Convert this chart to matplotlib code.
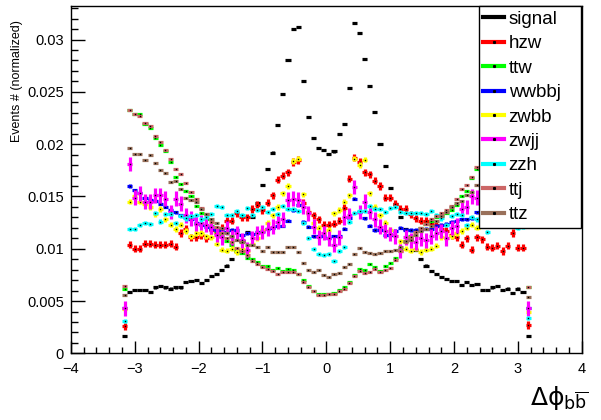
import matplotlib
matplotlib.use('Agg')
import matplotlib.pyplot as plt
import numpy as np
from matplotlib.lines import Line2D
from matplotlib.ticker import MultipleLocator, FuncFormatter

# Bordes de los bins (80 bins entre -3.2 y 3.2)
bordes = np.linspace(-3.2, 3.2, 81)
centros = 0.5 * (bordes[:-1] + bordes[1:])

nombres = ['signal', 'hzw', 'ttw', 'wwbbj', 'zwbb', 'zwjj', 'zzh', 'ttj', 'ttz']
colores = ['#000000', '#ff0000', '#00ff00', '#0000ff', '#ffff00',
           '#ff00ff', '#00ffff', '#cc6666', '#99705a']
errores = [0.0001, 0.00035, 0.00005, 0.00015, 0.00025, 0.0007, 0.0002, 0.00005, 0.00005]

signal = [0.0017, 0.0059, 0.0061, 0.0061, 0.0061, 0.0059, 0.0063, 0.0064, 0.0063, 0.0062,
          0.0063, 0.0063, 0.0068, 0.0069, 0.0070, 0.0067, 0.0070, 0.0074, 0.0076, 0.0080,
          0.0084, 0.0090, 0.0098, 0.0107, 0.0116, 0.0130, 0.0144, 0.0161, 0.0176, 0.0192,
          0.0218, 0.0248, 0.0280, 0.0310, 0.0312, 0.0260, 0.0226, 0.0206, 0.0196, 0.0194,
          0.0191, 0.0193, 0.0210, 0.0219, 0.0254, 0.0316, 0.0306, 0.0281, 0.0256, 0.0231,
          0.0200, 0.0179, 0.0158, 0.0143, 0.0130, 0.0119, 0.0109, 0.0099, 0.0090, 0.0084,
          0.0079, 0.0076, 0.0073, 0.0071, 0.0069, 0.0069, 0.0065, 0.0068, 0.0065, 0.0066,
          0.0061, 0.0061, 0.0063, 0.0064, 0.0061, 0.0062, 0.0058, 0.0062, 0.0059, 0.0017]

hzw = [0.0026, 0.0104, 0.0100, 0.0100, 0.0105, 0.0105, 0.0104, 0.0104, 0.0104, 0.0105,
       0.0102, 0.0115, 0.0119, 0.0111, 0.0111, 0.0113, 0.0110, 0.0118, 0.0115, 0.0120,
       0.0127, 0.0127, 0.0134, 0.0130, 0.0130, 0.0138, 0.0142, 0.0137, 0.0144, 0.0151,
       0.0166, 0.0170, 0.0173, 0.0183, 0.0185, 0.0144, 0.0135, 0.0132, 0.0128, 0.0123,
       0.0123, 0.0124, 0.0127, 0.0139, 0.0167, 0.0187, 0.0183, 0.0173, 0.0171, 0.0165,
       0.0160, 0.0149, 0.0149, 0.0143, 0.0138, 0.0138, 0.0133, 0.0129, 0.0127, 0.0127,
       0.0125, 0.0123, 0.0119, 0.0117, 0.0113, 0.0111, 0.0104, 0.0110, 0.0099, 0.0111,
       0.0109, 0.0102, 0.0101, 0.0103, 0.0098, 0.0103, 0.0115, 0.0101, 0.0101, 0.0027]

ttw = [0.0062, 0.0233, 0.0229, 0.0229, 0.0219, 0.0215, 0.0206, 0.0199, 0.0193, 0.0183,
       0.0169, 0.0162, 0.0155, 0.0150, 0.0141, 0.0134, 0.0128, 0.0122, 0.0117, 0.0112,
       0.0107, 0.0104, 0.0099, 0.0096, 0.0091, 0.0090, 0.0087, 0.0084, 0.0084, 0.0080,
       0.0082, 0.0079, 0.0081, 0.0080, 0.0076, 0.0070, 0.0064, 0.0060, 0.0057, 0.0057,
       0.0057, 0.0058, 0.0061, 0.0063, 0.0068, 0.0075, 0.0081, 0.0080, 0.0085, 0.0083,
       0.0079, 0.0084, 0.0086, 0.0091, 0.0100, 0.0107, 0.0112, 0.0117, 0.0120, 0.0124,
       0.0127, 0.0130, 0.0132, 0.0134, 0.0137, 0.0142, 0.0150, 0.0155, 0.0168, 0.0176,
       0.0182, 0.0190, 0.0196, 0.0203, 0.0210, 0.0216, 0.0222, 0.0227, 0.0232, 0.0063]

wwbbj = [0.0043, 0.0160, 0.0156, 0.0153, 0.0149, 0.0147, 0.0146, 0.0143, 0.0140, 0.0137,
         0.0135, 0.0132, 0.0130, 0.0128, 0.0125, 0.0123, 0.0121, 0.0119, 0.0118, 0.0118,
         0.0116, 0.0118, 0.0118, 0.0113, 0.0115, 0.0114, 0.0116, 0.0117, 0.0119, 0.0120,
         0.0122, 0.0122, 0.0127, 0.0137, 0.0142, 0.0126, 0.0121, 0.0112, 0.0112, 0.0112,
         0.0110, 0.0112, 0.0112, 0.0119, 0.0129, 0.0148, 0.0135, 0.0129, 0.0122, 0.0118,
         0.0118, 0.0113, 0.0113, 0.0117, 0.0120, 0.0118, 0.0118, 0.0118, 0.0118, 0.0119,
         0.0119, 0.0122, 0.0123, 0.0124, 0.0126, 0.0127, 0.0128, 0.0128, 0.0129, 0.0135,
         0.0136, 0.0138, 0.0140, 0.0143, 0.0146, 0.0149, 0.0152, 0.0156, 0.0160, 0.0043]

zwbb = [0.0042, 0.0145, 0.0150, 0.0145, 0.0143, 0.0140, 0.0133, 0.0138, 0.0128, 0.0123,
        0.0119, 0.0123, 0.0117, 0.0112, 0.0115, 0.0115, 0.0112, 0.0111, 0.0105, 0.0099,
        0.0098, 0.0100, 0.0097, 0.0100, 0.0098, 0.0105, 0.0110, 0.0118, 0.0125, 0.0132,
        0.0140, 0.0153, 0.0160, 0.0184, 0.0186, 0.0152, 0.0134, 0.0125, 0.0120, 0.0115,
        0.0118, 0.0134, 0.0137, 0.0145, 0.0151, 0.0186, 0.0180, 0.0185, 0.0153, 0.0140,
        0.0132, 0.0125, 0.0118, 0.0112, 0.0107, 0.0100, 0.0098, 0.0100, 0.0097, 0.0099,
        0.0100, 0.0103, 0.0111, 0.0110, 0.0112, 0.0115, 0.0117, 0.0120, 0.0123, 0.0120,
        0.0125, 0.0128, 0.0133, 0.0135, 0.0140, 0.0142, 0.0144, 0.0148, 0.0145, 0.0040]

zwjj = [0.0043, 0.0181, 0.0149, 0.0153, 0.0145, 0.0145, 0.0151, 0.0151, 0.0148, 0.0135,
        0.0148, 0.0143, 0.0132, 0.0129, 0.0124, 0.0125, 0.0123, 0.0121, 0.0113, 0.0111,
        0.0120, 0.0111, 0.0115, 0.0108, 0.0099, 0.0110, 0.0115, 0.0116, 0.0119, 0.0121,
        0.0126, 0.0128, 0.0147, 0.0148, 0.0147, 0.0140, 0.0134, 0.0121, 0.0111, 0.0115,
        0.0110, 0.0104, 0.0111, 0.0130, 0.0132, 0.0159, 0.0135, 0.0145, 0.0135, 0.0128,
        0.0121, 0.0117, 0.0114, 0.0112, 0.0098, 0.0111, 0.0108, 0.0106, 0.0110, 0.0108,
        0.0112, 0.0115, 0.0117, 0.0110, 0.0120, 0.0122, 0.0138, 0.0140, 0.0150, 0.0149,
        0.0145, 0.0140, 0.0150, 0.0136, 0.0148, 0.0145, 0.0150, 0.0152, 0.0180, 0.0043]

zzh = [0.0031, 0.0119, 0.0119, 0.0123, 0.0125, 0.0124, 0.0134, 0.0126, 0.0133, 0.0133,
       0.0125, 0.0131, 0.0129, 0.0131, 0.0132, 0.0128, 0.0130, 0.0133, 0.0141, 0.0140,
       0.0132, 0.0132, 0.0136, 0.0132, 0.0139, 0.0132, 0.0137, 0.0140, 0.0135, 0.0138,
       0.0133, 0.0141, 0.0138, 0.0138, 0.0136, 0.0125, 0.0110, 0.0100, 0.0095, 0.0094,
       0.0095, 0.0088, 0.0098, 0.0102, 0.0126, 0.0134, 0.0136, 0.0136, 0.0141, 0.0138,
       0.0138, 0.0135, 0.0139, 0.0140, 0.0135, 0.0134, 0.0134, 0.0134, 0.0134, 0.0133,
       0.0136, 0.0132, 0.0129, 0.0123, 0.0131, 0.0133, 0.0132, 0.0123, 0.0130, 0.0128,
       0.0125, 0.0116, 0.0124, 0.0126, 0.0122, 0.0125, 0.0122, 0.0120, 0.0121, 0.0034]

ttj = [0.0064, 0.0233, 0.0229, 0.0227, 0.0220, 0.0217, 0.0208, 0.0202, 0.0194, 0.0186,
       0.0176, 0.0171, 0.0163, 0.0154, 0.0148, 0.0139, 0.0133, 0.0126, 0.0121, 0.0115,
       0.0110, 0.0106, 0.0101, 0.0098, 0.0094, 0.0088, 0.0085, 0.0083, 0.0081, 0.0079,
       0.0076, 0.0078, 0.0078, 0.0078, 0.0076, 0.0068, 0.0063, 0.0060, 0.0056, 0.0056,
       0.0057, 0.0057, 0.0060, 0.0062, 0.0067, 0.0074, 0.0079, 0.0077, 0.0078, 0.0081,
       0.0078, 0.0080, 0.0082, 0.0089, 0.0098, 0.0106, 0.0111, 0.0116, 0.0120, 0.0124,
       0.0128, 0.0131, 0.0134, 0.0137, 0.0141, 0.0148, 0.0157, 0.0161, 0.0169, 0.0178,
       0.0182, 0.0190, 0.0197, 0.0204, 0.0211, 0.0217, 0.0222, 0.0228, 0.0233, 0.0063]

ttz = [0.0056, 0.0196, 0.0191, 0.0191, 0.0185, 0.0190, 0.0182, 0.0175, 0.0172, 0.0164,
       0.0165, 0.0157, 0.0149, 0.0147, 0.0145, 0.0138, 0.0133, 0.0128, 0.0125, 0.0120,
       0.0115, 0.0112, 0.0108, 0.0106, 0.0104, 0.0104, 0.0102, 0.0098, 0.0102, 0.0097,
       0.0097, 0.0097, 0.0102, 0.0102, 0.0097, 0.0086, 0.0080, 0.0078, 0.0080, 0.0075,
       0.0073, 0.0076, 0.0077, 0.0083, 0.0085, 0.0095, 0.0101, 0.0097, 0.0096, 0.0095,
       0.0096, 0.0098, 0.0098, 0.0099, 0.0102, 0.0107, 0.0108, 0.0113, 0.0117, 0.0119,
       0.0122, 0.0127, 0.0131, 0.0135, 0.0140, 0.0144, 0.0146, 0.0151, 0.0154, 0.0161,
       0.0165, 0.0172, 0.0175, 0.0182, 0.0188, 0.0185, 0.0191, 0.0191, 0.0196, 0.0054]

series = [signal, hzw, ttw, wwbbj, zwbb, zwjj, zzh, ttj, ttz]

plt.rcParams['font.family'] = ['Liberation Sans', 'DejaVu Sans']

fig = plt.figure(figsize=(6.01, 4.20), dpi=100)
ax = fig.add_axes([0.118, 0.1586, 0.850, 0.827])

# Dibujar cada muestra como puntos con barras de error
for datos, col, err in zip(series, colores, errores):
    ax.errorbar(centros, datos, xerr=0.04, yerr=err, fmt='none',
                ecolor=col, elinewidth=2.3, capsize=0)
    ax.plot(centros, datos, ls='none', marker='s', ms=1.0, mew=0, color='k')

ax.set_xlim(-4, 4)
ax.set_ylim(0, 0.0332)
ax.xaxis.set_major_locator(MultipleLocator(1))
ax.xaxis.set_minor_locator(MultipleLocator(0.2))
ax.yaxis.set_major_locator(MultipleLocator(0.005))
ax.yaxis.set_minor_locator(MultipleLocator(0.001))
ax.yaxis.set_major_formatter(FuncFormatter(lambda v, p: '%g' % round(v, 4)))
ax.tick_params(which='both', direction='in', top=False, right=False,
               labelsize=10.5, width=1)
ax.tick_params(axis='x', which='major', length=8.5, pad=6)
ax.tick_params(axis='x', which='minor', length=4.5)
ax.tick_params(axis='y', which='major', length=10, pad=5)
ax.tick_params(axis='y', which='minor', length=5)
for s in ax.spines.values():
    s.set_linewidth(1)

# Titulos de los ejes
fig.text(17 / 601, 1 - 20 / 420, 'Events # (normalized)', rotation=90,
         ha='center', va='top', fontsize=9)
fig.text(588 / 601, 0.035,
         r'$\Delta\mathrm{\phi}_{\mathrm{b}\overline{\mathrm{b}}}$',
         ha='right', va='baseline', fontsize=18)

# Leyenda
manijas = [Line2D([0], [0], color=c, lw=3, marker='s', ms=1.2, mfc='k', mec='k')
           for c in colores]
leg = ax.legend(manijas, nombres, loc='upper left',
                bbox_to_anchor=(0.798, 0.361, 0.2, 0.639), mode='expand',
                borderaxespad=0, fontsize=13.5, labelspacing=0.39,
                handlelength=1.1, handletextpad=0.25, borderpad=0.25,
                frameon=True, fancybox=False, framealpha=1)
leg.get_frame().set_edgecolor('k')
leg.get_frame().set_linewidth(1)

fig.savefig('out.png', dpi=100)
